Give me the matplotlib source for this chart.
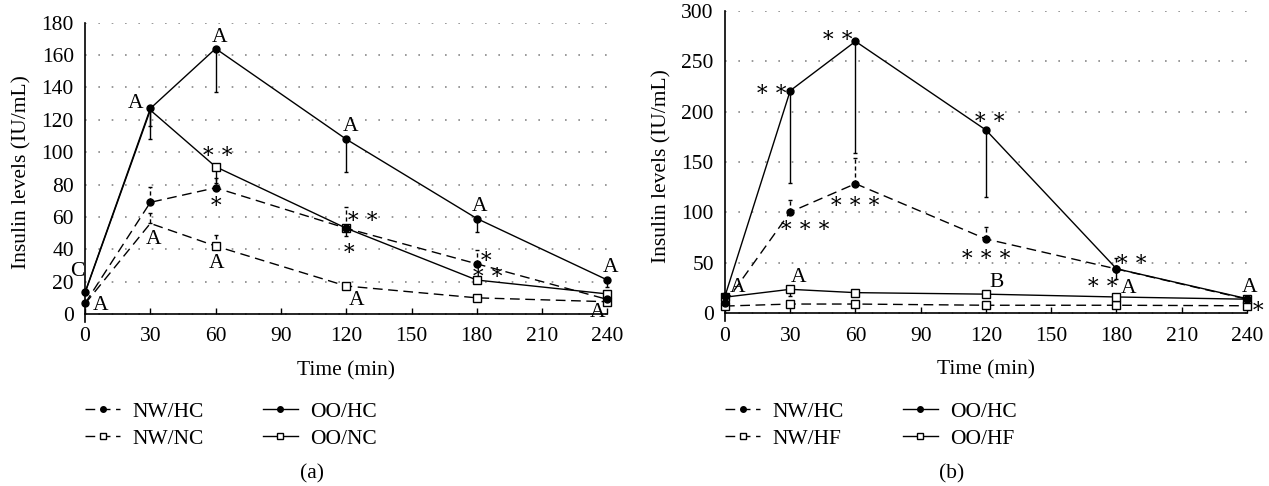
import matplotlib
matplotlib.use('Agg')
import matplotlib.pyplot as plt

plt.rcParams['font.family'] = ['Liberation Serif', 'DejaVu Serif']
plt.rcParams['font.size'] = 15.5

time = [0, 30, 60, 120, 180, 240]

# panel (a)
a_nw_hc = [6.6, 69, 78, 53, 31, 9]
a_nw_hc_err = [0.5, 9.5, 6, 13, 8.6, 1]
a_nw_nc = [6.3, 56, 42, 17.3, 10, 7.6]
a_nw_nc_err = [0.5, 6.4, 6.6, 1, 1, 1]
a_oo_hc = [13.4, 127, 164, 108, 59, 21]
a_oo_hc_err = [1, 19, 27, 20, 8.6, 4.5]
a_oo_nc = [13, 126, 91, 53, 21, 12.4]
a_oo_nc_err = [1, 10, 10, 5, 2, 2]

S2 = '∗\u2009∗'
S3 = '∗\u2009∗\u2009∗'

a_lab = ['C', 'A', 'A', 'A', 'A', S2, '∗', 'A', 'A', S2, '∗', 'A',
         'A', '∗', S2, 'A', 'A']
a_lab_x = [-3.7, 6.9, 23.3, 31.6, 61.6, 61.1, 60.2, 60.2, 122, 127.7, 121.3,
           124.8, 181.4, 184.2, 185.1, 241.6, 235.6]
a_lab_y = [27.8, 6.8, 131.2, 47.6, 172.4, 100.3, 69.8, 32.3, 117.4, 60.1,
           40.8, 9.9, 68, 35.8, 25.5, 30.3, 2.5]

# panel (b)
b_nw_hc = [10, 100.4, 128.5, 73.7, 44, 14]
b_nw_hc_err = [1, 12, 25, 12.3, 11, 1]
b_nw_hf = [7.2, 9.2, 9.2, 8, 8, 7.5]
b_nw_hf_err = [0.5, 1, 1, 1, 1, 0.5]
b_oo_hc = [17, 220.7, 269.6, 181.7, 44.2, 14.5]
b_oo_hc_err = [1, 91.8, 111, 66.7, 10.5, 2]
b_oo_hf = [16, 23.8, 20.5, 19, 16.2, 14]
b_oo_hf_err = [1, 7, 2, 2, 2, 1]

b_lab = ['A', 'A', S2, S2, S3, S3, S2, S3, 'B', S2, S2, 'A', 'A', '∗']
b_lab_x = [6, 34, 21.5, 51.8, 37.1, 60.1, 121.8, 120, 124.9, 187, 173.5,
           185.6, 241.4, 245]
b_lab_y = [28, 38, 222, 275, 87.5, 110.6, 194.3, 58.8, 33, 53.5, 30.3, 27,
           28, 7.2]

DASH = (0, (7, 4))


def series(ax, y, err, dashed, square, label, up, every=None, z=3):
    ls = DASH if dashed else '-'
    mfc = 'white' if square else 'black'
    mk = 's' if square else 'o'
    zero = [0] * len(err)
    yerr = [zero, err] if up else [err, zero]
    eb = ax.errorbar(time, y, yerr=yerr, fmt='none', ecolor='black',
                     elinewidth=1, capsize=1.5, capthick=1, clip_on=False)
    if dashed:
        for c in eb[2]:
            c.set_linestyle((0, (3, 2)))
    line, = ax.plot(time, y, linestyle=ls, color='black', lw=1, marker=mk,
                    ms=5 if not square else 5.5, mfc=mfc, mec='black',
                    mew=1, label=label, clip_on=False, zorder=z,
                    markevery=every)
    return line


def style(ax, top, step):
    ax.set_xlim(0, 240)
    ax.set_xticks(range(0, 241, 30))
    ax.set_yticks(range(0, top + 1, step))
    ax.spines['top'].set_visible(False)
    ax.spines['right'].set_visible(False)
    ax.spines['bottom'].set_position(('data', 0))
    ax.spines['left'].set_linewidth(1.2)
    ax.spines['bottom'].set_linewidth(1.2)
    ax.tick_params(axis='x', direction='in', length=4, pad=9.5, width=1)
    ax.tick_params(axis='y', direction='in', length=0, pad=8)
    ax.yaxis.grid(True, color='#888888', linestyle=(0, (1, 7)), lw=1.2)
    ax.set_axisbelow(True)
    ax.set_ylabel('Insulin levels (IU/mL)')
    ax.yaxis.set_label_coords(-0.103, 0.5)
    ax.set_xlabel('Time (min)', va='top')


def labels(ax, txt, xs, ys):
    for t, x, y in zip(txt, xs, ys):
        ax.annotate(t, (x, y), xytext=(0, -1.5), textcoords='offset points',
                    ha='center', va='center', annotation_clip=False,
                    zorder=5)


def legend(handles, names, x):
    fig.legend(handles, names, loc='upper left', bbox_to_anchor=(x, 0.173),
               ncol=2, frameon=False, borderpad=0, borderaxespad=0,
               handlelength=1.63, handletextpad=0.56, columnspacing=2.75,
               labelspacing=0.3, numpoints=1, markerscale=0.8)


fig = plt.figure(figsize=(12.69, 4.86), dpi=100)

ax1 = fig.add_axes([0.0670, 0.3372, 0.4117, 0.6161])
h2 = series(ax1, a_nw_nc, a_nw_nc_err, True, True, 'NW/NC', True, [2, 3, 4, 5])
h4 = series(ax1, a_oo_nc, a_oo_nc_err, False, True, 'OO/NC', False, [2, 3, 4, 5])
h1 = series(ax1, a_nw_hc, a_nw_hc_err, True, False, 'NW/HC', True, z=4)
h3 = series(ax1, a_oo_hc, a_oo_hc_err, False, False, 'OO/HC', False, z=4)
ax1.set_ylim(-5, 180)
style(ax1, 180, 20)
ax1.xaxis.set_label_coords(0.5, -0.130)
labels(ax1, a_lab, a_lab_x, a_lab_y)
legend([h1, h2, h3, h4], ['NW/HC', 'NW/NC', 'OO/HC', 'OO/NC'], 85 / 1269)
fig.text(312 / 1269, 12 / 486, '(a)', ha='center', va='center')

ax2 = fig.add_axes([0.5713, 0.3387, 0.4113, 0.6393])
g2 = series(ax2, b_nw_hf, b_nw_hf_err, True, True, 'NW/HF', True)
g4 = series(ax2, b_oo_hf, b_oo_hf_err, False, True, 'OO/HF', False)
g1 = series(ax2, b_nw_hc, b_nw_hc_err, True, False, 'NW/HC', True, z=4)
g3 = series(ax2, b_oo_hc, b_oo_hc_err, False, False, 'OO/HC', False, z=4)
ax2.set_ylim(-8, 300)
style(ax2, 300, 50)
ax2.xaxis.set_label_coords(0.5, -0.126)
labels(ax2, b_lab, b_lab_x, b_lab_y)
legend([g1, g2, g3, g4], ['NW/HC', 'NW/HF', 'OO/HC', 'OO/HF'], 725 / 1269)
fig.text(952 / 1269, 12 / 486, '(b)', ha='center', va='center')

fig.savefig('out.png', dpi=100)
